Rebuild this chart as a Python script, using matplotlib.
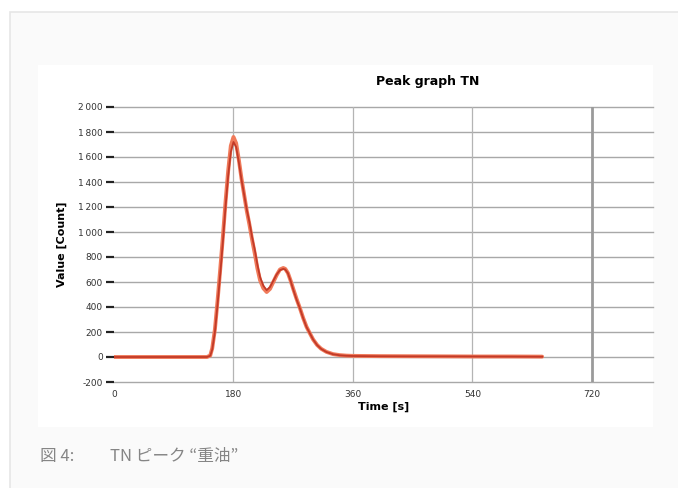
import matplotlib.pyplot as plt
from matplotlib.patches import Rectangle

# time axis [s] and two overlaid peak traces
time_s = [0, 140, 145, 148, 152, 156, 160, 164, 168, 172, 176, 180, 184, 188, 192, 196,
          200, 204, 208, 212, 216, 220, 225, 230, 235, 240, 245, 250, 255, 258, 262, 266,
          270, 275, 280, 285, 290, 295, 300, 306, 312, 320, 330, 340, 350, 360, 400, 450,
          500, 550, 600, 645]
run_a = [0, 0, 10, 60, 200, 420, 660, 920, 1200, 1450, 1640, 1720, 1680, 1560, 1420, 1300,
         1180, 1080, 960, 860, 740, 640, 570, 535, 560, 610, 660, 695, 705, 700, 670, 610,
         540, 460, 390, 310, 240, 190, 140, 95, 65, 40, 22, 14, 10, 8, 6, 5,
         5, 4, 3, 2]
run_b = [0, 0, 12, 70, 220, 450, 700, 960, 1240, 1490, 1690, 1760, 1710, 1580, 1430, 1300,
         1170, 1060, 940, 830, 710, 615, 550, 520, 545, 600, 655, 700, 712, 705, 672, 612,
         545, 465, 392, 312, 242, 190, 140, 96, 66, 41, 23, 15, 11, 9, 7, 6,
         5, 4, 4, 3]

yticks = [-200, 0, 200, 400, 600, 800, 1000, 1200, 1400, 1600, 1800, 2000]
ytick_labels = ["-200", "0", "200", "400", "600", "800", "1\u2009000", "1\u2009200",
                "1\u2009400", "1\u2009600", "1\u2009800", "2\u2009000"]
xticks = [0, 180, 360, 540, 720]

W, H = 678, 488
fig = plt.figure(figsize=(W / 100, H / 100), dpi=100)
fig.patch.set_facecolor("white")

# outer light frame and white chart panel
fig.patches.append(Rectangle((10 / W, -0.05), 1.2, 1 - 12 / H + 0.05, transform=fig.transFigure,
                             facecolor="#fafafa", edgecolor="#e6e6e6", lw=1.2, zorder=0))
fig.patches.append(Rectangle((38 / W, 1 - 427 / H), 615 / W, 362 / H, transform=fig.transFigure,
                             facecolor="white", edgecolor="none", zorder=1))

ax = fig.add_axes([114 / W, 1 - 382 / H, (653 - 114) / W, (382 - 107) / H])
ax.set_facecolor("none")
ax.set_zorder(2)

for y in yticks:
    ax.axhline(y, color="#a8a8a8", lw=1.0, zorder=1, clip_on=False)
for x in xticks[1:4]:
    ax.axvline(x, color="#b4b4b4", lw=0.9, zorder=1)
ax.axvline(xticks[4], color="#9a9a9a", lw=2.0, zorder=1)

ax.plot(time_s, run_b, color="#f07a5a", lw=2.8, zorder=3, solid_capstyle="round")
ax.plot(time_s, run_a, color="#c23a28", lw=1.3, zorder=4)

ax.set_xlim(0, 812)
ax.set_ylim(-200, 2000)
ax.set_xticks(xticks)
ax.set_yticks(yticks)
ax.set_yticklabels(ytick_labels)
ax.tick_params(axis="x", length=0, labelsize=6.5, labelcolor="#333333", pad=6)
ax.tick_params(axis="y", length=6, width=1.6, color="#222222", labelsize=6.5,
               labelcolor="#333333", pad=2)
for s in ax.spines.values():
    s.set_visible(False)

ax.set_xlabel("Time [s]", fontsize=8, fontweight="bold", labelpad=2)
ax.set_ylabel("Value [Count]", fontsize=8, fontweight="bold", labelpad=8)

fig.text(428 / W, 1 - 82 / H, "Peak graph TN", fontsize=9, fontweight="bold",
         ha="center", va="center")

cap_font = ["Noto Sans CJK JP", "DejaVu Sans"]
fig.text(40 / W, 1 - 457 / H, "図 4:", fontsize=12, color="#858585",
         family=cap_font, ha="left", va="center")
fig.text(110 / W, 1 - 457 / H, "TN ピーク “重油”", fontsize=12, color="#858585",
         family=cap_font, ha="left", va="center")

fig.savefig("out.png", dpi=100)
